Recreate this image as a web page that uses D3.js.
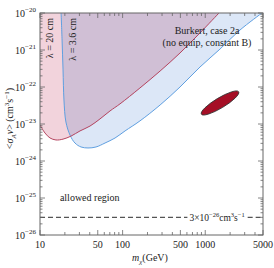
<!DOCTYPE html>
<html lang="en">
<head>
<meta charset="UTF-8">
<script src="https://d3js.org/d3.v7.min.js"></script>
<style>
  body { margin: 0; background: #fff; }
  svg text { font-family: "Liberation Serif", "Times New Roman", Times, serif; fill: #222; }
</style>
</head>
<body>
<svg id="chart" width="274" height="268"></svg>
<script>
// values (mass in GeV, <sigma v> in cm^3/s)
var redMass = [10, 11.5, 13.2, 15.6, 19, 23.7, 30.5, 40.3, 53.2, 70.3, 93, 162, 284, 495, 864, 1467];
var redSigma = [9.4e-24, 5.7e-24, 4.2e-24, 3.7e-24, 3.9e-24, 4.7e-24, 6.5e-24, 8.8e-24, 1.37e-23, 2.25e-23, 3.5e-23, 9.4e-23, 2.7e-22, 8.3e-22, 2.9e-21, 1e-20];
var blueMass = [18, 18.5, 19, 19.5, 20.6, 23.1, 26.5, 31.4, 38.1, 47.6, 61.2, 80.9, 107, 162, 284, 495, 864, 1509, 2634, 4862];
var blueSigma = [1e-20, 1.86e-21, 2.9e-22, 4.45e-23, 1.13e-23, 5e-24, 3.06e-24, 2.39e-24, 2.25e-24, 2.39e-24, 3.06e-24, 4.18e-24, 6.5e-24, 1.21e-23, 3.26e-23, 1e-22, 3.47e-22, 1.06e-21, 3.47e-21, 1e-20];
var blob = { mass: 1509, sigma: 3.7e-23, semiMajor: 0.263, semiMinor: 0.062, angle: 31 }; // axes in decades of x
var relic = 3e-26;
var xTicksMajor = [10, 50, 100, 500, 1000, 5000];
var xTicksMinor = [20, 30, 40, 60, 70, 80, 90, 200, 300, 400, 600, 700, 800, 900, 2000, 3000, 4000];
var yTickExp = [-20, -21, -22, -23, -24, -25, -26];
var lambdaLabels = ["λ = 20 cm", "λ = 3.6 cm"];
var lambdaMass = [13.3, 25];

var svg = d3.select("#chart");
var W = 274, H = 268;
var x = d3.scaleLog().domain([10, 5000]).range([40, 263]);
var y = d3.scaleLog().domain([1e-26, 1e-20]).range([235, 13]);
var x0 = x.range()[0], x1 = x.range()[1], yb = y.range()[0], yt = y.range()[1];

svg.append("clipPath").attr("id", "clip").append("rect")
  .attr("x", x0).attr("y", yt).attr("width", x1 - x0).attr("height", yb - yt);

var line = d3.line()
  .x(function (d) { return x(d[0]); })
  .y(function (d) { return y(d[1]); })
  .curve(d3.curveCatmullRom);

var redPts = redMass.map(function (m, i) { return [m, redSigma[i]]; });
var bluePts = blueMass.map(function (m, i) { return [m, blueSigma[i]]; });

// excluded regions
var g = svg.append("g").attr("clip-path", "url(#clip)");
g.append("path").attr("d", line(bluePts) + "Z").attr("fill", "#dce7f7");
g.append("path").attr("d", line(redPts) + "L" + x(10) + "," + y(1e-20) + "Z")
  .attr("fill", "#f2d3dc").style("mix-blend-mode", "multiply");
g.append("path").attr("d", line(bluePts)).attr("fill", "none").attr("stroke", "#5f9fe0").attr("stroke-width", 1);
g.append("path").attr("d", line(redPts)).attr("fill", "none").attr("stroke", "#b4445f").attr("stroke-width", 1);

// best-fit blob
var pxPerDec = x(100) - x(10);
svg.append("ellipse")
  .attr("cx", x(blob.mass)).attr("cy", y(blob.sigma))
  .attr("rx", blob.semiMajor * pxPerDec).attr("ry", blob.semiMinor * pxPerDec)
  .attr("transform", "rotate(" + (-blob.angle) + "," + x(blob.mass) + "," + y(blob.sigma) + ")")
  .attr("fill", "#a50f26").attr("stroke", "#333").attr("stroke-width", 0.8);

// relic line, broken for its label
var lab = svg.append("text")
  .attr("x", x(3000)).attr("y", y(relic) + 3.5)
  .attr("text-anchor", "end").attr("font-size", 9.5);
lab.append("tspan").text("3×10");
lab.append("tspan").attr("dy", -4).attr("font-size", 6.5).text("−26");
lab.append("tspan").attr("dy", 4).text("cm");
lab.append("tspan").attr("dy", -4).attr("font-size", 6.5).text("3");
lab.append("tspan").attr("dy", 4).text("s");
lab.append("tspan").attr("dy", -4).attr("font-size", 6.5).text("−1");
var bb = lab.node().getBBox();
[[x0, bb.x - 2], [bb.x + bb.width + 3, x1]].forEach(function (s) {
  svg.append("line").attr("x1", s[0]).attr("x2", s[1]).attr("y1", y(relic)).attr("y2", y(relic))
    .attr("stroke", "#555").attr("stroke-width", 1.1).attr("stroke-dasharray", "5,3");
});

// frame
svg.append("rect")
  .attr("x", x0).attr("y", yt).attr("width", x1 - x0).attr("height", yb - yt)
  .attr("fill", "none").attr("stroke", "#666").attr("stroke-width", 1);

// inward ticks on all four sides
var ax = svg.append("g").attr("stroke", "#666").attr("stroke-width", 0.8);
xTicksMajor.concat(xTicksMinor).forEach(function (v) {
  var len = xTicksMajor.indexOf(v) >= 0 ? 5 : 3;
  ax.append("line").attr("x1", x(v)).attr("x2", x(v)).attr("y1", yb).attr("y2", yb - len);
  ax.append("line").attr("x1", x(v)).attr("x2", x(v)).attr("y1", yt).attr("y2", yt + len);
});
yTickExp.forEach(function (e) {
  var v = Math.pow(10, e);
  ax.append("line").attr("x1", x0).attr("x2", x0 + 5).attr("y1", y(v)).attr("y2", y(v));
  ax.append("line").attr("x1", x1).attr("x2", x1 - 5).attr("y1", y(v)).attr("y2", y(v));
  if (e > -26) {
    d3.range(2, 10).forEach(function (k) {
      var w = k * Math.pow(10, e - 1);
      ax.append("line").attr("x1", x0).attr("x2", x0 + 2.5).attr("y1", y(w)).attr("y2", y(w));
      ax.append("line").attr("x1", x1).attr("x2", x1 - 2.5).attr("y1", y(w)).attr("y2", y(w));
    });
  }
});

// tick labels
xTicksMajor.forEach(function (v) {
  svg.append("text").attr("x", x(v)).attr("y", yb + 13)
    .attr("text-anchor", "middle").attr("font-size", 10).text(v);
});
yTickExp.forEach(function (e) {
  var t = svg.append("text").attr("x", x0 - 4).attr("y", y(Math.pow(10, e)) + 4)
    .attr("text-anchor", "end").attr("font-size", 10);
  t.append("tspan").text("10");
  t.append("tspan").attr("dy", -5).attr("font-size", 7).text("−" + (-e));
});

// axis titles
var xt = svg.append("text").attr("x", x(130)).attr("y", H - 7).attr("font-size", 10);
xt.append("tspan").attr("font-style", "italic").text("m");
xt.append("tspan").attr("dy", 2.5).attr("font-size", 7).attr("font-style", "italic").text("χ");
xt.append("tspan").attr("dy", -2.5).text("(GeV)");

var ytl = svg.append("text").attr("transform", "translate(13," + y(1.4e-23) + ") rotate(-90)")
  .attr("text-anchor", "middle").attr("font-size", 10);
ytl.append("tspan").text("<");
ytl.append("tspan").attr("font-style", "italic").text("σ");
ytl.append("tspan").attr("dy", 2.5).attr("font-size", 7).attr("font-style", "italic").text("A");
ytl.append("tspan").attr("dy", -2.5).attr("font-style", "italic").text("v");
ytl.append("tspan").text("> (cm");
ytl.append("tspan").attr("dy", -4).attr("font-size", 7).text("3");
ytl.append("tspan").attr("dy", 4).text("s");
ytl.append("tspan").attr("dy", -4).attr("font-size", 7).text("−1");
ytl.append("tspan").attr("dy", 4).text(")");

// annotations
svg.append("text").attr("x", x(1050)).attr("y", yt + 21)
  .attr("text-anchor", "middle").attr("font-size", 10).text("Burkert, case 2a");
svg.append("text").attr("x", x(1050)).attr("y", yt + 33)
  .attr("text-anchor", "middle").attr("font-size", 10).text("(no equip, constant B)");
svg.append("text").attr("x", x(40)).attr("y", y(1e-25) + 3)
  .attr("text-anchor", "middle").attr("font-size", 10).text("allowed region");
lambdaLabels.forEach(function (s, i) {
  svg.append("text")
    .attr("transform", "translate(" + (x(lambdaMass[i]) + 3) + "," + (yt + 5) + ") rotate(-90)")
    .attr("text-anchor", "end").attr("font-size", 10).text(s);
});
</script>
</body>
</html>
